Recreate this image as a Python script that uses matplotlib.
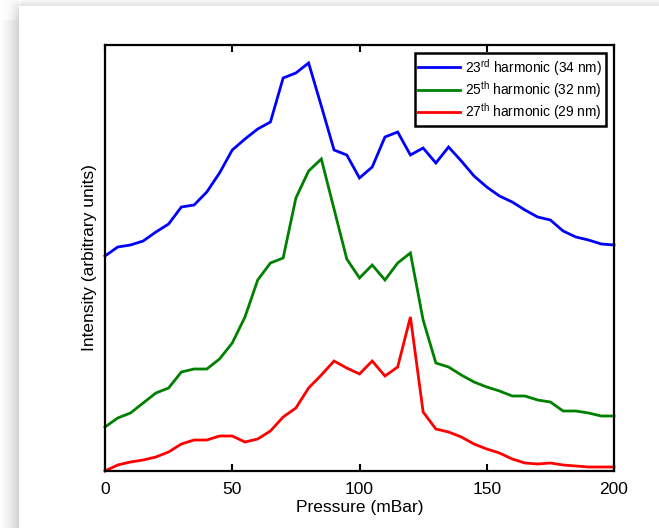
import numpy as np
import matplotlib
matplotlib.use("Agg")
import matplotlib.pyplot as plt

plt.rcParams['font.family'] = ['Liberation Sans', 'DejaVu Sans']
plt.rcParams['mathtext.fontset'] = 'custom'
plt.rcParams['mathtext.rm'] = 'Liberation Sans'
plt.rcParams['mathtext.it'] = 'Liberation Sans:italic'
plt.rcParams['mathtext.bf'] = 'Liberation Sans:bold'

pressure = list(range(0, 201, 5))
h23 = [215, 224, 226, 230, 239, 247, 264, 266, 279, 298, 321, 332, 342, 349, 393, 398, 408,
       365, 321, 316, 293, 304, 334, 339, 316, 323, 308, 324, 310, 295, 284, 275, 269, 261,
       254, 251, 240, 234, 231, 227, 226]
h25 = [44, 53, 58, 68, 78, 83, 99, 102, 102, 112, 128, 154, 191, 208, 213, 273, 300, 312,
       262, 212, 193, 206, 191, 208, 218, 151, 108, 104, 96, 89, 84, 80, 75, 75, 71, 69,
       60, 60, 58, 55, 55]
h27 = [0, 6, 9, 11, 14, 19, 27, 31, 31, 35, 35, 29, 32, 40, 54, 63, 83, 96, 110, 103, 97,
       110, 95, 104, 154, 59, 42, 39, 34, 27, 22, 18, 12, 8, 7, 8, 6, 5, 4, 4, 4]
labels = [r"23$^{\mathrm{rd}}$ harmonic (34 nm)",
          r"25$^{\mathrm{th}}$ harmonic (32 nm)",
          r"27$^{\mathrm{th}}$ harmonic (29 nm)"]
colors = ["#0000ff", "#008000", "#ff0000"]
xticks = [0, 50, 100, 150, 200]

W, H = 659, 528
fig = plt.figure(figsize=(W / 100, H / 100), dpi=100)

# drop-shadow style background
xs = np.arange(W)
ys = np.arange(H)
left = np.where(xs < 19, 1 - 0.17 * (xs / 18.0) ** 1.3, 1.0)
top = np.where(ys < 6, 1 - 0.10 * np.clip((ys + 2) / 7.0, 0, 1), 1.0)
bg = np.minimum(left[None, :], top[:, None])
for y in range(0, 20):
    for x in range(0, 20):
        if y < 6 or x < 19:
            f = min(1.0, (x + 1) / 20.0) * min(1.0, (y + 1) / 20.0) ** 0.5
            bg[y, x] = 1 - (1 - bg[y, x]) * f
bgax = fig.add_axes([0, 0, 1, 1], zorder=-10)
bgax.imshow(np.dstack([bg, bg, bg]), aspect='auto', interpolation='bilinear')
bgax.axis('off')

ax = fig.add_axes([105 / W, 1 - 471 / H, (614 - 105) / W, (471 - 45) / H])
for vals, lab, c in zip([h23, h25, h27], labels, colors):
    ax.plot(pressure, vals, color=c, lw=2.0, label=lab, clip_on=False, solid_joinstyle='miter')

ax.set_xlim(0, 200)
ax.set_ylim(0, 426)
ax.set_xticks(xticks)
ax.set_yticks([])
ax.tick_params(axis='x', direction='in', top=True, length=5, width=1.5, labelsize=12.5, pad=8)
for s in ax.spines.values():
    s.set_linewidth(1.6)
ax.set_xlabel("Pressure (mBar)", fontsize=12.5, labelpad=2)
ax.set_ylabel("Intensity (arbitrary units)", fontsize=12.5, labelpad=6)

leg = ax.legend(loc='upper right', fontsize=9.9, frameon=True, fancybox=False,
                edgecolor='black', framealpha=1, borderpad=0.25, handlelength=3.0,
                handletextpad=0.4, labelspacing=0.1, borderaxespad=0.6)
leg.get_frame().set_linewidth(1.8)

fig.savefig("out.png", dpi=100)
